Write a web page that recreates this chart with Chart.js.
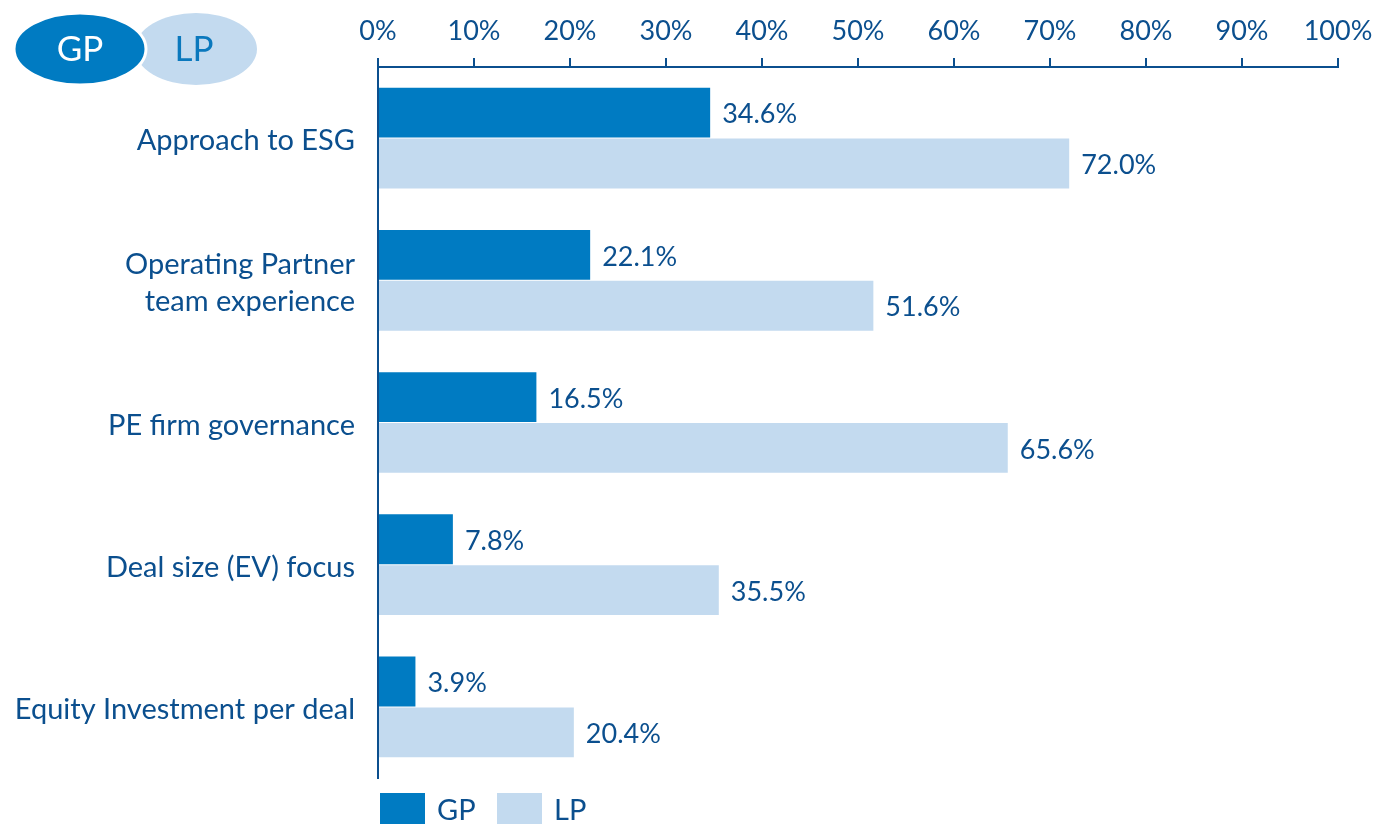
<!DOCTYPE html>
<html>
<head>
<meta charset="utf-8">
<script src="https://cdn.jsdelivr.net/npm/chart.js@4.4.0/dist/chart.umd.min.js"></script>
<style>
  html, body { margin: 0; padding: 0; background: #fff; overflow: hidden; }
</style>
</head>
<body>
<canvas id="myChart" width="1375" height="824"></canvas>
<script>
const ctx = document.getElementById('myChart').getContext('2d');

const categories = [
    'Approach to ESG',
    ['Operating Partner', 'team experience'],
    'PE firm governance',
    'Deal size (EV) focus',
    'Equity Investment per deal'
];
const gpValues = [34.6, 22.1, 16.5, 7.8, 3.9];
const lpValues = [72.0, 51.6, 65.6, 35.5, 20.4];
const tickValues = [0, 10, 20, 30, 40, 50, 60, 70, 80, 90, 100];

const NAVY = '#0b4f8e';
const GP_BLUE = '#007bc2';
const LP_BLUE = '#c3daef';
const FONT = 'Lato, "Open Sans", sans-serif';

// value labels at the end of each bar
const valueLabels = {
    id: 'valueLabels',
    afterDatasetsDraw(chart) {
        const c = chart.ctx;
        c.save();
        c.font = '27px ' + FONT;
        c.fillStyle = NAVY;
        c.textAlign = 'left';
        c.textBaseline = 'middle';
        chart.data.datasets.forEach((ds, i) => {
            chart.getDatasetMeta(i).data.forEach((bar, j) => {
                c.fillText(ds.data[j].toFixed(1) + '%', bar.x + 12, bar.y + 2);
            });
        });
        c.restore();
    }
};

// legend under the plot, starting at the y axis
const bottomLegend = {
    id: 'bottomLegend',
    afterDraw(chart) {
        const c = chart.ctx;
        const area = chart.chartArea;
        let x = area.left + 2;
        const top = area.bottom + 15;
        c.save();
        c.font = '29px ' + FONT;
        c.textBaseline = 'middle';
        c.textAlign = 'left';
        chart.data.datasets.forEach((ds) => {
            c.fillStyle = ds.backgroundColor;
            c.fillRect(x, top, 45, 40);
            c.fillStyle = NAVY;
            c.fillText(ds.label, x + 57, top + 18);
            x += 117;
        });
        c.restore();
    }
};

// GP / LP ellipses in the corner
const badge = {
    id: 'badge',
    afterDraw(chart) {
        const c = chart.ctx;
        c.save();
        c.beginPath();
        c.ellipse(196, 49, 61, 36, 0, 0, Math.PI * 2);
        c.fillStyle = LP_BLUE;
        c.fill();
        c.beginPath();
        c.ellipse(80, 49, 66, 36, 0, 0, Math.PI * 2);
        c.fillStyle = GP_BLUE;
        c.fill();
        c.lineWidth = 3;
        c.strokeStyle = '#ffffff';
        c.stroke();
        c.font = '35px ' + FONT;
        c.textAlign = 'center';
        c.textBaseline = 'middle';
        c.fillStyle = '#ffffff';
        c.fillText('GP', 80, 50);
        c.fillStyle = '#0a78bd';
        c.fillText('LP', 194, 50);
        c.restore();
    }
};

const chartData = {
    type: 'bar',
    data: {
        labels: categories,
        datasets: [
            { label: 'GP', data: gpValues, backgroundColor: GP_BLUE, borderWidth: 0 },
            { label: 'LP', data: lpValues, backgroundColor: LP_BLUE, borderWidth: 0 }
        ]
    },
    options: {
        indexAxis: 'y',
        responsive: false,
        animation: false,
        datasets: {
            bar: { categoryPercentage: 0.715, barPercentage: 0.98 }
        },
        layout: { padding: { left: 0, right: 37, top: 0, bottom: 46 } },
        plugins: {
            tooltip: { enabled: false },
            legend: { display: false }
        },
        scales: {
            x: {
                position: 'top',
                min: 0,
                max: 100,
                afterBuildTicks: (scale) => {
                    scale.ticks = tickValues.map(v => ({ value: v }));
                },
                afterFit: (scale) => {
                    scale.height = 67;
                    scale.paddingLeft = 0;
                    scale.paddingRight = 0;
                },
                ticks: {
                    color: NAVY,
                    padding: 11,
                    font: { family: FONT, size: 27 },
                    callback: (v) => v + '%'
                },
                grid: {
                    drawOnChartArea: false,
                    drawTicks: true,
                    tickLength: 9,
                    color: NAVY,
                    lineWidth: 2
                },
                border: { display: true, color: NAVY, width: 2 }
            },
            y: {
                afterFit: (scale) => { scale.width = 378; },
                ticks: {
                    color: NAVY,
                    padding: 15,
                    labelOffset: 3,
                    font: { family: FONT, size: 29, lineHeight: 1.27 }
                },
                grid: { display: false },
                border: { display: true, color: NAVY, width: 2 }
            }
        }
    },
    plugins: [valueLabels, bottomLegend, badge]
};

const myChart = new Chart(ctx, chartData);
</script>
</body>
</html>
